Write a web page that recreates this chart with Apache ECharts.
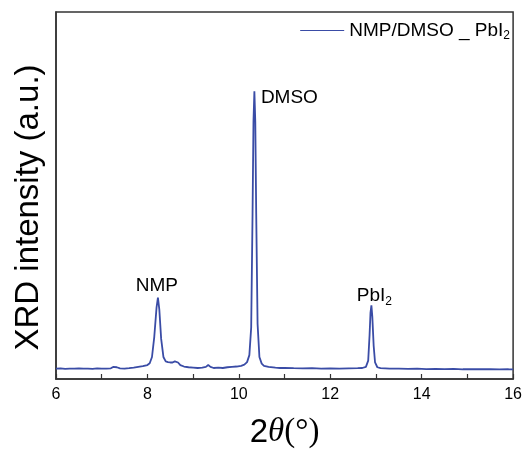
<!DOCTYPE html>
<html>
<head>
<meta charset="utf-8">
<script src="https://cdn.jsdelivr.net/npm/echarts@6/dist/echarts.min.js"></script>
<style>
  html, body { margin: 0; padding: 0; background: #fff; }
  #chart { width: 525px; height: 454px; }
</style>
</head>
<body>
<div id="chart"></div>
<script>
// XRD pattern of the NMP/DMSO _ PbI2 film (2θ in degrees, intensity in arbitrary units)
const twoTheta = [
  6.0, 6.1, 6.2, 6.3, 6.4, 6.5, 6.6, 6.7, 6.8, 6.9,
  7.0, 7.1, 7.2, 7.25, 7.29, 7.33, 7.4, 7.5, 7.6, 7.7,
  7.8, 7.9, 8.0, 8.05, 8.1, 8.15, 8.2, 8.23, 8.26, 8.3,
  8.35, 8.4, 8.45, 8.5, 8.55, 8.6, 8.63, 8.67, 8.72, 8.8,
  8.9, 9.0, 9.1, 9.2, 9.28, 9.33, 9.38, 9.45, 9.55, 9.65,
  9.75, 9.85, 9.95, 10.05, 10.12, 10.18, 10.23, 10.27, 10.3, 10.32,
  10.34, 10.36, 10.38, 10.41, 10.45, 10.5, 10.55, 10.65, 10.8, 10.9,
  11.0, 11.2, 11.4, 11.6, 11.8, 12.0, 12.2, 12.4, 12.6, 12.7,
  12.78, 12.83, 12.86, 12.88, 12.9, 12.92, 12.95, 12.98, 13.03, 13.1,
  13.3, 13.5, 13.7, 13.9, 14.1, 14.3, 14.5, 14.7, 14.9, 15.1,
  15.3, 15.5, 15.7, 15.9, 16.0
];
const intensity = [
  2.8, 2.9, 2.75, 2.85, 2.8, 2.9, 2.8, 2.85, 2.75, 2.9,
  2.8, 2.85, 2.9, 3.3, 3.6, 3.2, 2.9, 2.85, 2.95, 3.1,
  3.3, 3.5, 3.8, 4.3, 6.0, 11.5, 19.5, 22.2, 19.0, 11.0,
  6.0, 4.8, 4.6, 4.5, 4.5, 4.8, 5.0, 4.5, 3.8, 3.4,
  3.2, 3.1, 3.0, 3.1, 3.3, 3.8, 3.3, 3.0, 3.1, 3.0,
  3.2, 3.3, 3.4, 3.6, 3.9, 4.6, 6.5, 14.0, 45.0, 70.0,
  78.4, 70.0, 45.0, 15.0, 6.0, 4.2, 3.6, 3.3, 3.1, 3.0,
  3.05, 2.95, 2.9, 2.95, 2.85, 2.9, 2.85, 2.9, 2.95, 3.0,
  3.3, 5.0, 12.0, 18.0, 20.1, 17.0, 9.0, 4.5, 3.2, 2.95,
  2.8, 2.85, 2.75, 2.8, 2.7, 2.75, 2.7, 2.75, 2.65, 2.7,
  2.65, 2.7, 2.6, 2.65, 2.6
];
const xTicks = [6, 8, 10, 12, 14, 16];
const seriesName = 'NMP/DMSO _ PbI2';
// reflection assignments and the 2θ where each peak sits
const peakNames = ['NMP', 'DMSO', 'PbI2'];
const peakPositions = [8.23, 10.34, 12.9];

const lineColor = '#3a4ca6';
const sans = 'Liberation Sans, Arial, sans-serif';
const serif = 'Liberation Serif, Times New Roman, serif';
const richText = {
  t: { fontFamily: sans, fontSize: 19, color: '#000' },
  sub: { fontFamily: sans, fontSize: 12, color: '#000', padding: [11, 0, 0, 0] }
};
function withSubscript(s) {
  return s.replace(/PbI2/, '{t|PbI}{sub|2}').replace(/^([^{]+)/, '{t|$1}');
}

const labelOffsets = [[-1, -12], [35, 6], [3, -9]];
const markData = peakNames.map((name, i) => {
  const idx = twoTheta.indexOf(peakPositions[i]);
  return {
    name: name,
    coord: [twoTheta[idx], intensity[idx]],
    label: { offset: labelOffsets[i] }
  };
});

const chart = echarts.init(document.getElementById('chart'), null, { renderer: 'canvas' });
chart.setOption({
  animation: false,
  backgroundColor: '#fff',
  grid: {
    left: 56, right: 10, top: 12, bottom: 73,
    show: true, borderColor: '#333', borderWidth: 1.5,
    containLabel: false
  },
  legend: {
    show: true,
    right: 10, top: 16,
    itemWidth: 44, itemHeight: 14, itemGap: 6,
    data: [{ name: seriesName, icon: 'path://M0,0 L44,0 L44,1 L0,1 Z' }],
    formatter: n => withSubscript(n),
    textStyle: { rich: richText }
  },
  xAxis: {
    type: 'value',
    min: 6, max: 16, interval: 2,
    name: '{a|2}{b|θ}{c|(°)}',
    nameLocation: 'middle',
    nameGap: 37,
    nameTextStyle: {
      rich: {
        a: { fontFamily: sans, fontSize: 33, color: '#000' },
        b: { fontFamily: serif, fontStyle: 'italic', fontSize: 33, color: '#000' },
        c: { fontFamily: serif, fontSize: 33, color: '#000' }
      }
    },
    axisLine: { show: true, onZero: false, lineStyle: { color: '#333', width: 1.5 } },
    axisTick: { show: true, inside: true, length: 5, lineStyle: { color: '#333', width: 1.2 } },
    minorTick: { show: true, splitNumber: 2, length: 5, lineStyle: { color: '#333', width: 1.2 } },
    axisLabel: {
      margin: 8, fontSize: 16, color: '#000',
      fontFamily: sans,
      formatter: v => (xTicks.indexOf(v) >= 0 ? String(v) : '')
    },
    splitLine: { show: false }
  },
  yAxis: {
    type: 'value',
    min: 0, max: 100,
    name: '{t|XRD intensity (a.u.)}{gap|}',
    nameLocation: 'middle',
    nameGap: 11,
    nameTextStyle: {
      rich: {
        t: { fontFamily: sans, fontSize: 33, color: '#000' },
        gap: { width: 24 }
      }
    },
    axisLine: { show: true, lineStyle: { color: '#333', width: 1.5 } },
    axisTick: { show: false },
    axisLabel: { show: false },
    splitLine: { show: false }
  },
  series: [{
    name: seriesName,
    type: 'line',
    data: twoTheta.map((x, i) => [x, intensity[i]]),
    showSymbol: false,
    symbol: 'none',
    lineStyle: { color: lineColor, width: 1.8 },
    itemStyle: { color: lineColor },
    markPoint: {
      symbol: 'circle',
      symbolSize: 1,
      itemStyle: { color: 'rgba(0,0,0,0)' },
      label: {
        show: true,
        position: 'inside',
        formatter: p => withSubscript(p.name),
        rich: richText
      },
      data: markData
    }
  }]
});
</script>
</body>
</html>
